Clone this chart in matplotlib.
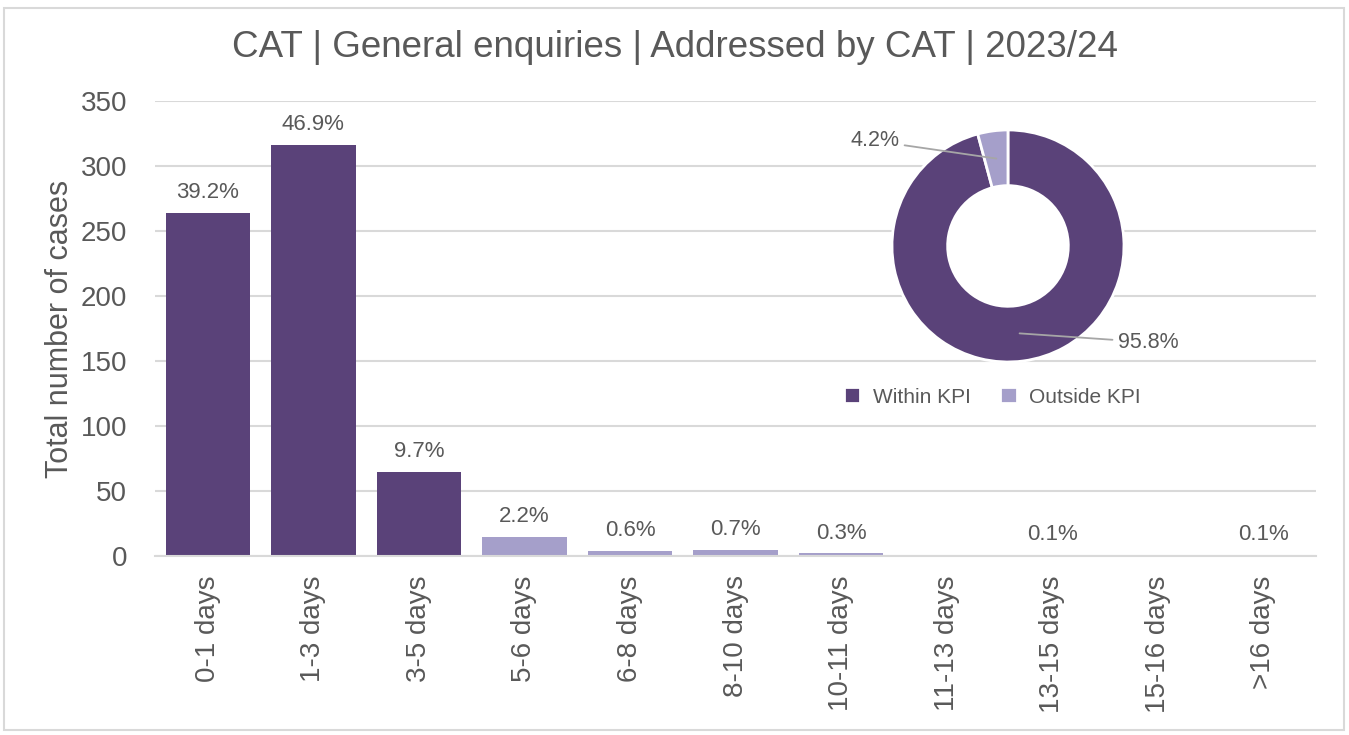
import numpy as np
import matplotlib
matplotlib.use("Agg")
import matplotlib.pyplot as plt
from matplotlib.patches import Rectangle, Circle

# Datos
categorias = ["0-1 days", "1-3 days", "3-5 days", "5-6 days", "6-8 days",
              "8-10 days", "10-11 days", "11-13 days", "13-15 days",
              "15-16 days", ">16 days"]
casos = [264, 316, 65, 15, 4, 5, 2, 0, 1, 0, 1]
porcentajes = ["39.2%", "46.9%", "9.7%", "2.2%", "0.6%", "0.7%", "0.3%",
               "", "0.1%", "", "0.1%"]
dentro_kpi = [True, True, True, False, False, False, False, False, False,
              False, False]

kpi_etiquetas = ["Within KPI", "Outside KPI"]
kpi_valores = [95.8, 4.2]

titulo = "CAT | General enquiries | Addressed by CAT | 2023/24"

# Estilo
OSCURO = "#5A4279"
CLARO = "#A59FCA"
GRIS_TEXTO = "#595959"
GRIS_LINEA = "#D9D9D9"

plt.rcParams["font.family"] = ["Liberation Sans", "DejaVu Sans"]
plt.rcParams["text.color"] = GRIS_TEXTO

fig = plt.figure(figsize=(13.49, 7.35), dpi=100)

# Marco exterior
fig.patches.append(Rectangle((0.003, 0.007), 0.993, 0.982, transform=fig.transFigure,
                             fill=False, edgecolor=GRIS_LINEA, linewidth=1.5))

fig.text(0.5, 0.935, titulo, ha="center", va="center", fontsize=26.5,
         color=GRIS_TEXTO)

# Grafico de barras
ax = fig.add_axes([0.115, 0.2435, 0.8605, 0.6191])
x = np.arange(len(categorias))
colores = [OSCURO if d else CLARO for d in dentro_kpi]
barras = ax.bar(x, casos, width=0.8, color=colores, zorder=2)

for b, p in zip(barras, porcentajes):
    if p:
        ax.annotate(p, (b.get_x() + b.get_width() / 2, b.get_height()),
                    xytext=(0, 7), textcoords="offset points",
                    ha="center", va="bottom", fontsize=16, color=GRIS_TEXTO)

ax.set_xlim(-0.5, len(categorias) - 0.5)
ax.set_ylim(0, 350)
ax.set_yticks(range(0, 351, 50))
ax.set_xticks(x)
ax.set_xticklabels(categorias, rotation=90)
ax.tick_params(axis="y", length=0, pad=20, labelsize=20, labelcolor=GRIS_TEXTO)
ax.tick_params(axis="x", length=0, pad=14, labelsize=20, labelcolor=GRIS_TEXTO)
ax.yaxis.grid(True, color=GRIS_LINEA, linewidth=1.5, zorder=0)
ax.set_axisbelow(True)
for lado in ["left", "right", "top"]:
    ax.spines[lado].set_visible(False)
ax.spines["bottom"].set_color(GRIS_LINEA)
ax.spines["bottom"].set_linewidth(1.5)
ax.set_ylabel("Total number of cases", fontsize=22, color=GRIS_TEXTO, labelpad=4)

# Donut KPI
axd = fig.add_axes([0.6612, 0.5075, 0.172, 0.3157])
axd.set_facecolor("none")
cunas, _ = axd.pie(kpi_valores, colors=[OSCURO, CLARO], startangle=90,
                   counterclock=False, radius=1,
                   wedgeprops=dict(width=0.48, edgecolor="white", linewidth=2))
axd.add_patch(Circle((0, 0), 0.52, color="white", zorder=0))
axd.set_xlim(-1, 1)
axd.set_ylim(-1, 1)
axd.set_aspect("equal")

posiciones_texto = [(1.21, -0.83), (-1.15, 0.905)]
for cuna, val, pos in zip(cunas, kpi_valores, posiciones_texto):
    ang = np.deg2rad((cuna.theta1 + cuna.theta2) / 2)
    r = 0.76
    axd.annotate(f"{val:.1f}%", xy=(r * np.cos(ang), r * np.sin(ang)),
                 xytext=pos, ha="center", va="center", fontsize=15.5,
                 color=GRIS_TEXTO, annotation_clip=False,
                 arrowprops=dict(arrowstyle="-", color="#A6A6A6", lw=1.3,
                                 shrinkA=2, shrinkB=0))

leg = fig.legend(cunas, kpi_etiquetas, loc="center", bbox_to_anchor=(0.7355, 0.46),
                 ncol=2, frameon=False, fontsize=15, handlelength=0.8,
                 handleheight=0.8, columnspacing=1.4, handletextpad=0.6)
for t in leg.get_texts():
    t.set_color(GRIS_TEXTO)

fig.savefig("out.png", dpi=100)
